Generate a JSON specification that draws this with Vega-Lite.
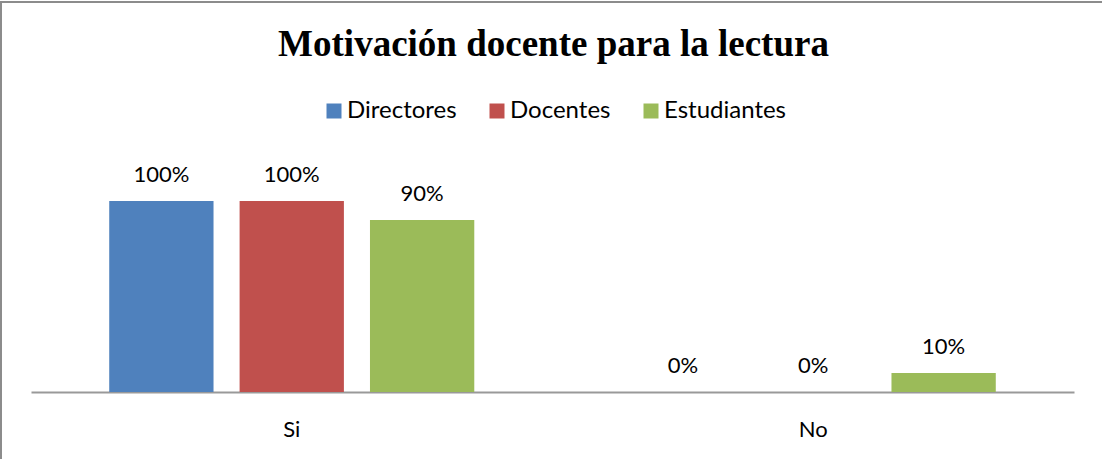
{
  "$schema": "https://vega.github.io/schema/vega-lite/v6.json",
  "autosize": {"type": "none"},
  "width": 1105,
  "height": 462,
  "padding": {"left": 1, "top": 2, "right": 0, "bottom": 0},
  "background": "white",
  "config": {"view": {"stroke": "#8c8c8c", "strokeWidth": 2}, "font": "Lato"},
  "title": {
    "text": "Motivación docente para la lectura",
    "font": "Liberation Serif",
    "fontSize": 37,
    "fontWeight": "bold",
    "color": "#000000",
    "anchor": "middle",
    "frame": "group",
    "orient": "top",
    "offset": -91,
    "baseline": "alphabetic"
  },
  "data": {
    "values": [
      {"respuesta": "Si", "grupo": "Directores", "valor": 1.0},
      {"respuesta": "Si", "grupo": "Docentes", "valor": 1.0},
      {"respuesta": "Si", "grupo": "Estudiantes", "valor": 0.9},
      {"respuesta": "No", "grupo": "Directores", "valor": 0.0},
      {"respuesta": "No", "grupo": "Docentes", "valor": 0.0},
      {"respuesta": "No", "grupo": "Estudiantes", "valor": 0.1}
    ]
  },
  "encoding": {
    "x": {
      "field": "respuesta",
      "type": "nominal",
      "sort": ["Si", "No"],
      "scale": {"range": [30, 1073], "paddingInner": 0, "paddingOuter": 0},
      "axis": {
        "orient": "bottom",
        "offset": -72,
        "title": null,
        "labelAngle": 0,
        "ticks": false,
        "domainColor": "#999999",
        "domainWidth": 2,
        "labelFont": "Lato",
        "labelFontSize": 22,
        "labelColor": "#000000",
        "labelPadding": 44,
        "labelBaseline": "alphabetic"
      }
    },
    "xOffset": {
      "field": "grupo",
      "type": "nominal",
      "sort": ["Directores", "Docentes", "Estudiantes"],
      "scale": {"paddingInner": 0.2, "paddingOuter": 0.6}
    },
    "y": {
      "field": "valor",
      "type": "quantitative",
      "scale": {"domain": [-0.377, 2.0419], "zero": false, "nice": false},
      "axis": null
    }
  },
  "layer": [
    {
      "mark": {"type": "bar"},
      "encoding": {
        "y2": {"datum": 0},
        "color": {
          "field": "grupo",
          "type": "nominal",
          "sort": ["Directores", "Docentes", "Estudiantes"],
          "scale": {"domain": ["Directores", "Docentes", "Estudiantes"], "range": ["#4F81BD", "#C0504D", "#9BBB59"]},
          "legend": {
            "orient": "none",
            "legendX": 321,
            "legendY": 97,
            "direction": "horizontal",
            "title": null,
            "symbolType": "square",
            "symbolSize": 225,
            "symbolStrokeWidth": 0,
            "symbolOpacity": 1,
            "labelFont": "Lato",
            "labelFontSize": 24,
            "labelColor": "#000000",
            "labelOffset": 1,
            "columnPadding": 28
          }
        }
      }
    },
    {
      "mark": {"type": "text", "baseline": "alphabetic", "dy": -19, "fontSize": 22, "font": "Lato", "color": "#000000"},
      "encoding": {
        "text": {"field": "valor", "type": "quantitative", "format": ".0%"}
      }
    }
  ]
}
